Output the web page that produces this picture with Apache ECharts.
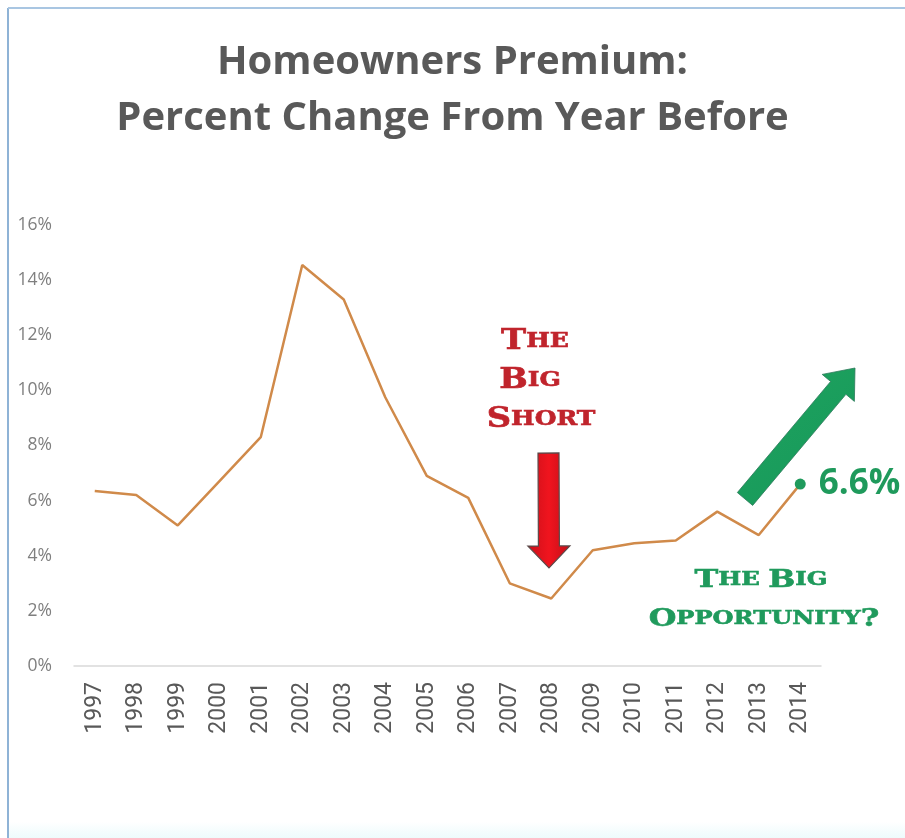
<!DOCTYPE html>
<html lang="en">
<head>
    <meta charset="UTF-8">
    <title>Homeowners Premium</title>
    <script src="https://cdn.jsdelivr.net/npm/echarts@6/dist/echarts.min.js"></script>
    <style>
        html, body { margin: 0; padding: 0; background: #ffffff; }
    </style>
</head>
<body>
<div id="main" style="width: 905px;height:838px;"></div>
<script type="text/javascript">
// data
let years = ['1997', '1998', '1999', '2000', '2001', '2002', '2003', '2004', '2005',
    '2006', '2007', '2008', '2009', '2010', '2011', '2012', '2013', '2014'];
let premiumChange = [6.35, 6.2, 5.1, 6.7, 8.3, 14.55, 13.3, 9.75, 6.9,
    6.1, 3.0, 2.45, 4.2, 4.45, 4.55, 5.6, 4.75, 6.6];
let yTicks = [0, 2, 4, 6, 8, 10, 12, 14, 16];

let green = '#1f9a5c';
let red = '#c0242c';
let lineColor = '#d08a4a';

let myChart = echarts.init(document.getElementById('main'));

let lastIdx = premiumChange.length - 1;
let seriesData = premiumChange.map(function (v, i) {
    if (i !== lastIdx) return v;
    return {
        value: v,
        symbol: 'circle',
        symbolSize: 11,
        itemStyle: { color: green },
        label: {
            show: true,
            position: 'right',
            distance: 13,
            formatter: '{c}%',
            color: green,
            fontFamily: 'Open Sans',
            fontWeight: 'bold',
            fontSize: 35
        }
    };
});

// small caps look: big first letter, smaller rest
function capsRich(color, big, small) {
    return {
        b: { font: 'bold ' + big + 'px "DejaVu Serif"', fill: color, stroke: color, lineWidth: 0.6 },
        s: { font: 'bold ' + small + 'px "DejaVu Serif"', fill: color, stroke: color, lineWidth: 0.6 }
    };
}

// arrow polygon along a centre line, tail -> tip
function arrowPoints(tail, tip, halfShaft, headLen, halfHead) {
    let dx = tip[0] - tail[0], dy = tip[1] - tail[1];
    let len = Math.sqrt(dx * dx + dy * dy);
    let ux = dx / len, uy = dy / len;
    let nx = -uy, ny = ux;
    let bx = tip[0] - headLen * ux, by = tip[1] - headLen * uy;
    return [
        [tail[0] - halfShaft * nx, tail[1] - halfShaft * ny],
        [bx - halfShaft * nx, by - halfShaft * ny],
        [bx - halfHead * nx, by - halfHead * ny],
        tip,
        [bx + halfHead * nx, by + halfHead * ny],
        [bx + halfShaft * nx, by + halfShaft * ny],
        [tail[0] + halfShaft * nx, tail[1] + halfShaft * ny]
    ];
}

option = {
    backgroundColor: '#ffffff',
    title: {
        text: 'Homeowners Premium:\nPercent Change From Year Before',
        left: 'center',
        top: 30,
        textStyle: {
            fontFamily: 'Open Sans',
            fontWeight: 'bold',
            fontSize: 40,
            lineHeight: 56,
            color: '#595959'
        }
    },
    grid: {
        left: 74,
        right: 84,
        top: 225,
        bottom: 172
    },
    xAxis: {
        type: 'category',
        data: years,
        boundaryGap: true,
        axisLine: { show: true, lineStyle: { color: '#d9d9d9', width: 1.5 } },
        axisTick: { show: false },
        axisLabel: {
            rotate: 90,
            margin: 16,
            color: '#595959',
            fontFamily: 'Roboto',
            fontSize: 23
        }
    },
    yAxis: {
        type: 'value',
        min: yTicks[0],
        max: yTicks[yTicks.length - 1],
        interval: 2,
        axisLine: { show: false },
        axisTick: { show: false },
        splitLine: { show: false },
        axisLabel: {
            margin: 22,
            color: '#7f7f7f',
            fontFamily: 'Open Sans',
            fontSize: 17.5,
            formatter: '{value}%'
        }
    },
    series: [
        {
            name: 'Homeowners Premium',
            type: 'line',
            symbol: 'none',
            showSymbol: true,
            data: seriesData,
            lineStyle: { color: lineColor, width: 2.5 },
            itemStyle: { color: lineColor },
            z: 3
        }
    ],
    graphic: [
        // frame
        { type: 'line', shape: { x1: 8, y1: 8, x2: 8, y2: 838 }, style: { stroke: '#8fb3d6', lineWidth: 2 } },
        { type: 'line', shape: { x1: 8, y1: 8, x2: 905, y2: 8 }, style: { stroke: '#a9c6e2', lineWidth: 2 } },
        {
            type: 'rect', shape: { x: 9, y: 822, width: 896, height: 16 }, silent: true,
            style: { fill: new echarts.graphic.LinearGradient(0, 0, 0, 1, [
                { offset: 0, color: 'rgba(235,250,252,0)' }, { offset: 1, color: '#eefbfc' }]) }
        },
        // red arrow down
        {
            type: 'polygon',
            shape: { points: arrowPoints([548.5, 453], [549, 568], 10.5, 22, 21) },
            style: {
                fill: new echarts.graphic.LinearGradient(0, 0, 1, 0, [
                    { offset: 0, color: '#c8101a' }, { offset: 0.5, color: '#f0141e' }, { offset: 1, color: '#c20e18' }]),
                stroke: '#5a4a4a', lineWidth: 1.2
            },
            z: 10
        },
        // green arrow up-right
        {
            type: 'polygon',
            shape: { points: arrowPoints([745, 499], [855, 368], 10, 26, 21) },
            style: {
                fill: new echarts.graphic.LinearGradient(0, 0, 1, 1, [
                    { offset: 0, color: '#1fa35f' }, { offset: 1, color: '#16985a' }]),
                stroke: '#2c7a5a', lineWidth: 0.8
            },
            z: 10
        },
        // THE BIG SHORT
        {
            type: 'text', x: 535, y: 342, scaleX: 1.25,
            style: { text: '{b|T}{s|HE}', rich: capsRich(red, 27, 20), align: 'center', verticalAlign: 'middle' },
            z: 10
        },
        {
            type: 'text', x: 530, y: 381, scaleX: 1.25,
            style: { text: '{b|B}{s|IG}', rich: capsRich(red, 27, 20), align: 'center', verticalAlign: 'middle' },
            z: 10
        },
        {
            type: 'text', x: 541, y: 420, scaleX: 1.25,
            style: { text: '{b|S}{s|HORT}', rich: capsRich(red, 27, 20), align: 'center', verticalAlign: 'middle' },
            z: 10
        },
        // THE BIG OPPORTUNITY?
        {
            type: 'text', x: 761, y: 580, scaleX: 1.28,
            style: { text: '{b|T}{s|HE }{b|B}{s|IG}', rich: capsRich(green, 25, 19), align: 'center', verticalAlign: 'middle' },
            z: 10
        },
        {
            type: 'text', x: 764, y: 619, scaleX: 1.27,
            style: { text: '{b|O}{s|PPORTUNITY}{b|?}', rich: capsRich(green, 25, 19), align: 'center', verticalAlign: 'middle' },
            z: 10
        }
    ]
};
myChart.setOption(option);
</script>
</body>
</html>
